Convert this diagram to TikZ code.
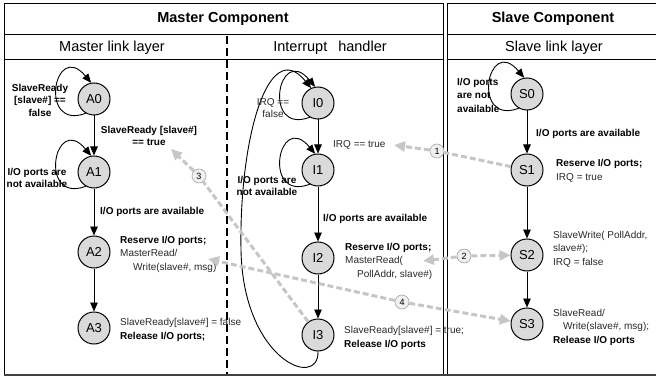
\documentclass[tikz,border=0pt]{standalone}
\usepackage{fontspec}
\setmainfont{Liberation Sans}
\usetikzlibrary{arrows.meta}
\definecolor{msggray}{RGB}{198,198,198}
\definecolor{nodegray}{RGB}{218,218,218}
\definecolor{txtgray}{RGB}{40,40,40}
\newcommand\selfloop[1]{\draw[tr] (#1.240) .. controls +(-48,18) and +(-37,-44) .. (#1.100);}
\begin{document}
\begin{tikzpicture}[x=1pt,y=-1pt,
  state/.style={circle,draw,line width=1pt,fill=nodegray,minimum size=32pt,inner sep=0pt,font=\fontsize{13}{15}\selectfont},
  lbl/.style={inner sep=0pt,anchor=west,align=left,text=txtgray,font=\fontsize{10}{13.5}\selectfont},
  blbl/.style={lbl,text=black,font=\fontsize{10}{13.5}\selectfont\bfseries},
  cl/.style={inner sep=0pt,align=center,font=\fontsize{10}{12.5}\selectfont\bfseries},
  head/.style={inner sep=0pt,font=\fontsize{14.5}{16}\selectfont\bfseries},
  sub/.style={inner sep=0pt,font=\fontsize{14.5}{16}\selectfont},
  tr/.style={-{Triangle[length=9pt,width=7.5pt]},line width=0.9pt},
  msg/.style={draw=msggray,line width=3pt,dash pattern=on 6pt off 3pt},
  msgarrow/.style={msg,-{Triangle[length=11pt,width=10pt]}},
  numc/.style={circle,draw=gray!70,fill=gray!12,line width=0.6pt,minimum size=14pt,inner sep=0pt,font=\fontsize{9}{9}\selectfont}
]
\useasboundingbox (0,0) rectangle (656,377);
% frames
\draw[line width=1pt] (4,4) rectangle (443,374);
\draw[line width=1pt] (447,4) rectangle (662,374);
\draw[line width=1pt] (4,35) -- (443,35) (447,35) -- (662,35);
\draw[line width=1pt] (4,60) -- (443,60) (447,60) -- (662,60);
\draw[line width=2.2pt,black!75] (4,375) -- (656,375);
\draw[line width=2pt,dash pattern=on 8pt off 4pt] (227,36) -- (227,374);
% headings
\node[head] (hm) at (223,19) {Master Component};
\node[head] (hs) at (553,19) {Slave Component};
\node[sub] (hml) at (112,48) {Master link layer};
\node[sub] (hih) at (330,48) {Interrupt\hspace{11pt}handler};
\node[sub] (hsl) at (554,48) {Slave link layer};
% states
\node[state] (A0) at (94,99) {A0};
\node[state] (A1) at (94,172) {A1};
\node[state] (A2) at (94,252) {A2};
\node[state] (A3) at (94,328) {A3};
\node[state] (I0) at (318,103) {I0};
\node[state] (I1) at (318,170) {I1};
\node[state] (I2) at (318,258) {I2};
\node[state] (I3) at (318,335) {I3};
\node[state] (S0) at (527,94) {S0};
\node[state] (S1) at (527,170) {S1};
\node[state] (S2) at (527,255) {S2};
\node[state] (S3) at (527,324) {S3};
% transitions
\draw[tr] (A0) -- (A1);
\draw[tr] (A1) -- (A2);
\draw[tr] (A2) -- (A3);
\draw[tr] (I0) -- (I1);
\draw[tr] (I1) -- (I2);
\draw[tr] (I2) -- (I3);
\draw[tr] (S0) -- (S1);
\draw[tr] (S1) -- (S2);
\draw[tr] (S2) -- (S3);
\selfloop{A0}
\selfloop{A1}
\selfloop{I0}
\selfloop{I1}
\selfloop{S0}
\draw[tr] (I3.south) .. controls (319,390) and (243,360) .. (241,250)
  .. controls (239,140) and (268,35) .. (I0.115);
% labels
\node[cl] (lA0) at (40,100) {SlaveReady\\{[slave\#] ==}\\false};
\node[cl] (lA01) at (149,136) {SlaveReady [slave\#]\\== true};
\node[cl] (lA1) at (37,178) {I/O ports are\\not available};
\node[blbl] (lA12) at (100,212) {I/O ports are available};
\node[lbl] (lA2) at (120,254) {\textbf{\textcolor{black}{Reserve I/O ports;}}\\MasterRead/\\\hspace*{13pt}Write(slave\#, msg)};
\node[lbl] (lA3) at (120,330) {SlaveReady[slave\#] = false\\\textbf{\textcolor{black}{Release I/O ports;}}};
\node[cl,font=\fontsize{10}{12.5}\selectfont,text=txtgray] (lI0) at (273,108) {IRQ ==\\false};
\node[lbl] (irqt) at (333,145) {IRQ == true};
\node[cl] (lI1) at (267,186) {I/O ports are\\not available};
\node[blbl] (lI12) at (323,219) {I/O ports are available};
\node[lbl] (lI2) at (345,261) {\textbf{\textcolor{black}{Reserve I/O ports;}}\\MasterRead(\\\hspace*{12pt}PollAddr, slave\#)};
\node[lbl] (lI3) at (344,338) {SlaveReady[slave\#] = true;\\\textbf{\textcolor{black}{Release I/O ports}}};
\node[blbl] (lS0) at (457,95) {I/O ports\\are not\\available};
\node[blbl] (lS01) at (536,134) {I/O ports are available};
\node[lbl] (lS1) at (556,171) {\textbf{\textcolor{black}{Reserve I/O ports;}}\\IRQ = true};
\node[lbl] (lS2) at (553,249) {SlaveWrite( PollAddr,\\slave\#);\\IRQ = false};
\node[lbl] (lS3) at (553,327) {SlaveRead/\\\hspace*{10pt}Write(slave\#, msg);\\\textbf{\textcolor{black}{Release I/O ports}}};
% message numbers
\node[numc] (n1) at (437,151) {1};
\node[numc] (n2) at (464,256) {2};
\node[numc] (n3) at (199,176) {3};
\node[numc] (n4) at (402,302) {4};
\coordinate (t1) at (394,145);
\coordinate (t2) at (423,261);
\coordinate (t3) at (171,149);
\coordinate (t4) at (208,259);
% messages
\draw[msg] (S1) -- (n1);
\draw[msgarrow] (n1) -- (t1);
\draw[msgarrow] (n2) -- (t2);
\draw[msgarrow] (n2) -- (S2);
\draw[msg] (I3) -- (n3);
\draw[msgarrow] (n3) -- (t3);
\draw[msgarrow] (n4) -- (t4);
\draw[msgarrow] (n4) -- (S3);
\end{tikzpicture}
\end{document}
